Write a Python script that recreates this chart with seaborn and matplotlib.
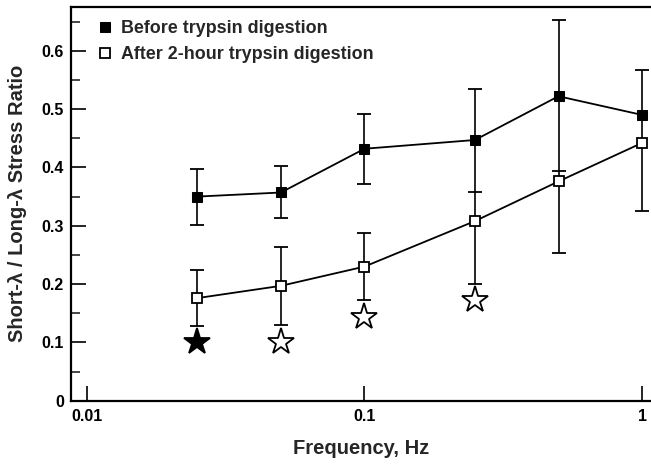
import numpy as np
import pandas as pd
import seaborn as sns
import matplotlib.pyplot as plt

# frequencies (Hz)
freq = [0.025, 0.05, 0.1, 0.25, 0.5, 1.0]

# before trypsin digestion: mean and error bar ends
before_mean = [0.350, 0.357, 0.432, 0.447, 0.522, 0.490]
before_hi = [0.398, 0.402, 0.492, 0.535, 0.652, 0.567]
before_lo = [0.302, 0.313, 0.372, 0.358, 0.393, np.nan]  # no lower bar drawn at 1 Hz

# after 2-hour trypsin digestion: mean and error bar ends
after_mean = [0.176, 0.197, 0.230, 0.308, 0.376, 0.442]
after_hi = [0.224, 0.264, 0.287, np.nan, np.nan, np.nan]  # hidden where bars overlap
after_lo = [0.128, 0.130, 0.173, 0.200, 0.254, 0.325]

# significance stars
star_freq = [0.025, 0.05, 0.1, 0.25]
star_y = [0.100, 0.100, 0.143, 0.172]
star_filled = [True, False, False, False]

x_ticks = [0.01, 0.1, 1]
x_ticklabels = ["0.01", "0.1", "1"]
y_ticks = [0, 0.1, 0.2, 0.3, 0.4, 0.5, 0.6]
y_ticklabels = ["0", "0.1", "0.2", "0.3", "0.4", "0.5", "0.6"]

sns.set_theme(style="ticks")
plt.rcParams["font.family"] = ["Liberation Sans", "DejaVu Sans"]
plt.rcParams["font.weight"] = "bold"

df = pd.DataFrame({
    "freq": freq * 2,
    "ratio": before_mean + after_mean,
    "group": ["Before trypsin digestion"] * 6 + ["After 2-hour trypsin digestion"] * 6,
})

fig = plt.figure(figsize=(6.51, 4.66), dpi=100)
ax = fig.add_axes([0.1086, 0.140, 0.8914, 0.845])


def caps(values):
    ax.plot(freq, values, linestyle="none", marker="_", markersize=10,
            markeredgewidth=1.3, color="black", zorder=2)


# before bars (span to the mean where an end is hidden)
before_bottom = [m if np.isnan(l) else l for m, l in zip(before_mean, before_lo)]
ax.vlines(freq, before_bottom, before_hi, color="black", linewidth=1.2, zorder=2)
caps(before_lo)
caps(before_hi)

# after bars continue up to the before bars where those overlap
after_top = [h if not np.isnan(h) else bl if not np.isnan(bl) else bm
             for h, bl, bm in zip(after_hi, before_lo, before_mean)]
ax.vlines(freq, after_lo, after_top, color="black", linewidth=1.2, zorder=2)
caps(after_lo)
caps(after_hi)

sns.lineplot(data=df[df.group == "Before trypsin digestion"], x="freq", y="ratio",
             color="black", marker="s", markersize=7.5, markerfacecolor="black",
             markeredgecolor="black", linewidth=1.3, ax=ax, zorder=3,
             label="Before trypsin digestion")
sns.lineplot(data=df[df.group == "After 2-hour trypsin digestion"], x="freq", y="ratio",
             color="black", marker="s", markersize=7.5, markerfacecolor="white",
             markeredgecolor="black", markeredgewidth=1.3, linewidth=1.3, ax=ax,
             zorder=3, label="After 2-hour trypsin digestion")

for fx, fy, filled in zip(star_freq, star_y, star_filled):
    ax.plot(fx, fy, marker="*", markersize=19.5, markeredgewidth=1.3,
            markerfacecolor="black" if filled else "white",
            markeredgecolor="black", linestyle="none", zorder=4)

ax.set_xscale("log")
ax.set_xlim(0.00874, 1.077)
ax.set_ylim(0, 0.675)
ax.set_xticks(x_ticks)
ax.set_xticklabels(x_ticklabels)
ax.xaxis.set_minor_locator(plt.NullLocator())
ax.set_yticks(y_ticks)
ax.set_yticklabels(y_ticklabels)
ax.set_yticks(np.arange(0.05, 0.66, 0.1), minor=True)

ax.tick_params(axis="both", which="major", direction="in", length=11, width=1.2,
               labelsize=11.5, colors="black")
ax.tick_params(axis="y", which="major", pad=5)
ax.tick_params(axis="x", which="major", pad=6)
ax.tick_params(axis="y", which="minor", direction="in", length=6.5, width=1.2)
for lab in ax.get_xticklabels() + ax.get_yticklabels():
    lab.set_fontweight("bold")

for s in ax.spines.values():
    s.set_linewidth(1.6)
    s.set_color("black")
ax.spines["right"].set_visible(False)

ax.set_xlabel("Frequency, Hz", fontsize=14.5, fontweight="bold", labelpad=11)
ax.set_ylabel("Short-λ / Long-λ Stress Ratio", fontsize=14.5, fontweight="bold",
              labelpad=10)

leg = ax.legend(loc="upper left", bbox_to_anchor=(98 / 651, 1 - 20 / 466),
                bbox_transform=fig.transFigure, frameon=False, fontsize=12.9,
                handlelength=0.8, handletextpad=0.5, borderaxespad=0,
                borderpad=0, labelspacing=0.5)
for h in leg.legend_handles:
    h.set_linestyle("none")
    h.set_markersize(7)
for t in leg.get_texts():
    t.set_fontweight("bold")

fig.savefig("out.png", dpi=100)
